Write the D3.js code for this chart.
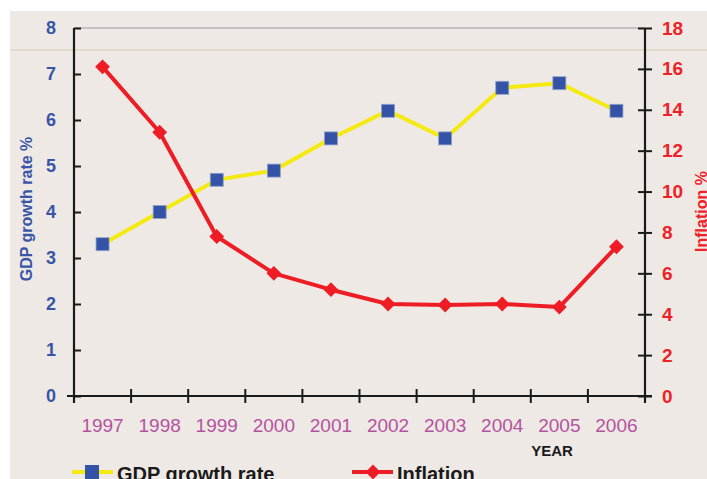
<!DOCTYPE html>
<html>
<head>
<meta charset="utf-8">
<script src="https://cdn.jsdelivr.net/npm/d3@7"></script>
<style>
  html, body { margin: 0; padding: 0; background: #ffffff; }
  svg { display: block; font-family: "Liberation Sans", Arial, sans-serif; }
</style>
</head>
<body>
<svg id="chart" width="707" height="479"></svg>
<script>
// GDP growth and inflation, 1997–2006
const years = ["1997", "1998", "1999", "2000", "2001", "2002", "2003", "2004", "2005", "2006"];
const gdpGrowth = [3.3, 4.0, 4.7, 4.9, 5.6, 6.2, 5.6, 6.7, 6.8, 6.2];
const inflation = [16.1, 12.9, 7.8, 6.0, 5.2, 4.5, 4.45, 4.5, 4.35, 7.3];
const leftTicks = [0, 1, 2, 3, 4, 5, 6, 7, 8];
const rightTicks = [0, 2, 4, 6, 8, 10, 12, 14, 16, 18];

const svg = d3.select("#chart");
const W = 707, H = 479;
const plot = { left: 74, right: 645, top: 28, bottom: 396 };
const FONT = "Liberation Sans, Arial, sans-serif";

// panel background
svg.append("rect").attr("x", 10).attr("y", 11).attr("width", W - 10).attr("height", H - 11)
  .attr("fill", "#eee9e5");
svg.append("line").attr("x1", 10).attr("x2", W).attr("y1", 50).attr("y2", 50)
  .attr("stroke", "#d8cdb0").attr("stroke-width", 1);

const x = d3.scaleBand().domain(years).range([plot.left, plot.right]);
const yL = d3.scaleLinear().domain([0, 8]).range([plot.bottom, plot.top]);
const yR = d3.scaleLinear().domain([0, 18]).range([plot.bottom, plot.top]);

// top border of plot area
svg.append("line").attr("x1", plot.left).attr("x2", plot.right)
  .attr("y1", plot.top).attr("y2", plot.top)
  .attr("stroke", "#9a9a9a").attr("stroke-width", 1.2);

function styleAxis(axis) {
  axis.selectAll(".tick line").attr("stroke", "#1a1a1a").attr("stroke-width", 2);
  axis.select(".domain").attr("stroke", "#1a1a1a").attr("stroke-width", 2.2);
}

// left axis (ticks cross the axis line)
const gL = svg.append("g").attr("transform", `translate(${plot.left},0)`)
  .call(d3.axisLeft(yL).tickValues(leftTicks).tickSize(7).tickSizeOuter(0).tickPadding(11));
styleAxis(gL);
gL.selectAll(".tick line").attr("x2", 7);
gL.select(".domain").attr("d", `M0,${plot.top}V${plot.bottom + 7}`);
gL.selectAll(".tick text").attr("fill", "#3a55a6").attr("font-size", 18)
  .attr("font-weight", "bold").attr("font-family", FONT);

// right axis
const gR = svg.append("g").attr("transform", `translate(${plot.right},0)`)
  .call(d3.axisRight(yR).tickValues(rightTicks).tickSize(7).tickSizeOuter(0).tickPadding(10));
styleAxis(gR);
gR.selectAll(".tick line").attr("x1", -7);
gR.select(".domain").attr("d", `M0,${plot.top}V${plot.bottom + 7}`);
gR.selectAll(".tick text").attr("fill", "#ee2226").attr("font-size", 19)
  .attr("font-weight", "bold").attr("font-family", FONT);

// bottom axis: ticks on band boundaries, labels at band centers
const gB = svg.append("g").attr("transform", `translate(0,${plot.bottom})`);
gB.append("line").attr("x1", plot.left - 7).attr("x2", plot.right + 7)
  .attr("stroke", "#1a1a1a").attr("stroke-width", 2.2);
const bounds = years.map(y => x(y)).concat([plot.right]);
gB.selectAll("line.tk").data(bounds).enter().append("line").attr("class", "tk")
  .attr("x1", d => d).attr("x2", d => d).attr("y1", -7).attr("y2", 7)
  .attr("stroke", "#1a1a1a").attr("stroke-width", 2);
gB.selectAll("text").data(years).enter().append("text")
  .attr("x", d => x(d) + x.bandwidth() / 2).attr("y", 36)
  .attr("text-anchor", "middle").attr("font-size", 19).attr("fill", "#b5529f")
  .text(d => d);

// axis titles
svg.append("text").attr("transform", `translate(32,209) rotate(-90)`)
  .attr("text-anchor", "middle").attr("font-size", 16).attr("font-weight", "bold")
  .attr("fill", "#3a55a6").text("GDP growth rate %");
svg.append("text").attr("transform", `translate(706.5,252) rotate(-90)`)
  .attr("text-anchor", "start").attr("font-size", 16).attr("font-weight", "bold")
  .attr("fill", "#ee2226").text("Inflation %");
svg.append("text").attr("x", 552).attr("y", 456).attr("text-anchor", "middle")
  .attr("font-size", 15).attr("font-weight", "bold").attr("fill", "#1a1a1a").text("YEAR");

const cx = d => x(d) + x.bandwidth() / 2;

// GDP series
const gdpLine = d3.line().x((d, i) => cx(years[i])).y(d => yL(d));
svg.append("path").datum(gdpGrowth).attr("d", gdpLine)
  .attr("fill", "none").attr("stroke", "#f4ea12").attr("stroke-width", 4);

// inflation series
const infLine = d3.line().x((d, i) => cx(years[i])).y(d => yR(d));
svg.append("path").datum(inflation).attr("d", infLine)
  .attr("fill", "none").attr("stroke", "#ee1d25").attr("stroke-width", 4)
  .attr("stroke-linejoin", "round");

const diamond = d3.symbol().type(d3.symbolSquare).size(110);
svg.selectAll("path.inf").data(inflation).enter().append("path").attr("class", "inf")
  .attr("d", diamond)
  .attr("transform", (d, i) => `translate(${cx(years[i])},${yR(d)}) rotate(45)`)
  .attr("fill", "#ee1d25");

svg.selectAll("rect.gdp").data(gdpGrowth).enter().append("rect").attr("class", "gdp")
  .attr("x", (d, i) => cx(years[i]) - 6.5).attr("y", d => yL(d) - 6.5)
  .attr("width", 13).attr("height", 13)
  .attr("fill", "#3553a6").attr("stroke", "#8ea0cc").attr("stroke-width", 0.8);

// legend
const lg = svg.append("g");
lg.append("line").attr("x1", 72).attr("x2", 113).attr("y1", 472).attr("y2", 472)
  .attr("stroke", "#f4ea12").attr("stroke-width", 4);
lg.append("rect").attr("x", 85).attr("y", 465).attr("width", 14).attr("height", 14)
  .attr("fill", "#3553a6");
lg.append("text").attr("x", 117).attr("y", 481).attr("font-size", 20).attr("font-weight", "bold")
  .attr("fill", "#1a1a1a").text("GDP growth rate");
lg.append("line").attr("x1", 352).attr("x2", 393).attr("y1", 472).attr("y2", 472)
  .attr("stroke", "#ee1d25").attr("stroke-width", 4);
lg.append("path").attr("d", diamond).attr("transform", "translate(373,472) rotate(45)")
  .attr("fill", "#ee1d25");
lg.append("text").attr("x", 397).attr("y", 481).attr("font-size", 20).attr("font-weight", "bold")
  .attr("fill", "#1a1a1a").text("Inflation");
</script>
</body>
</html>
